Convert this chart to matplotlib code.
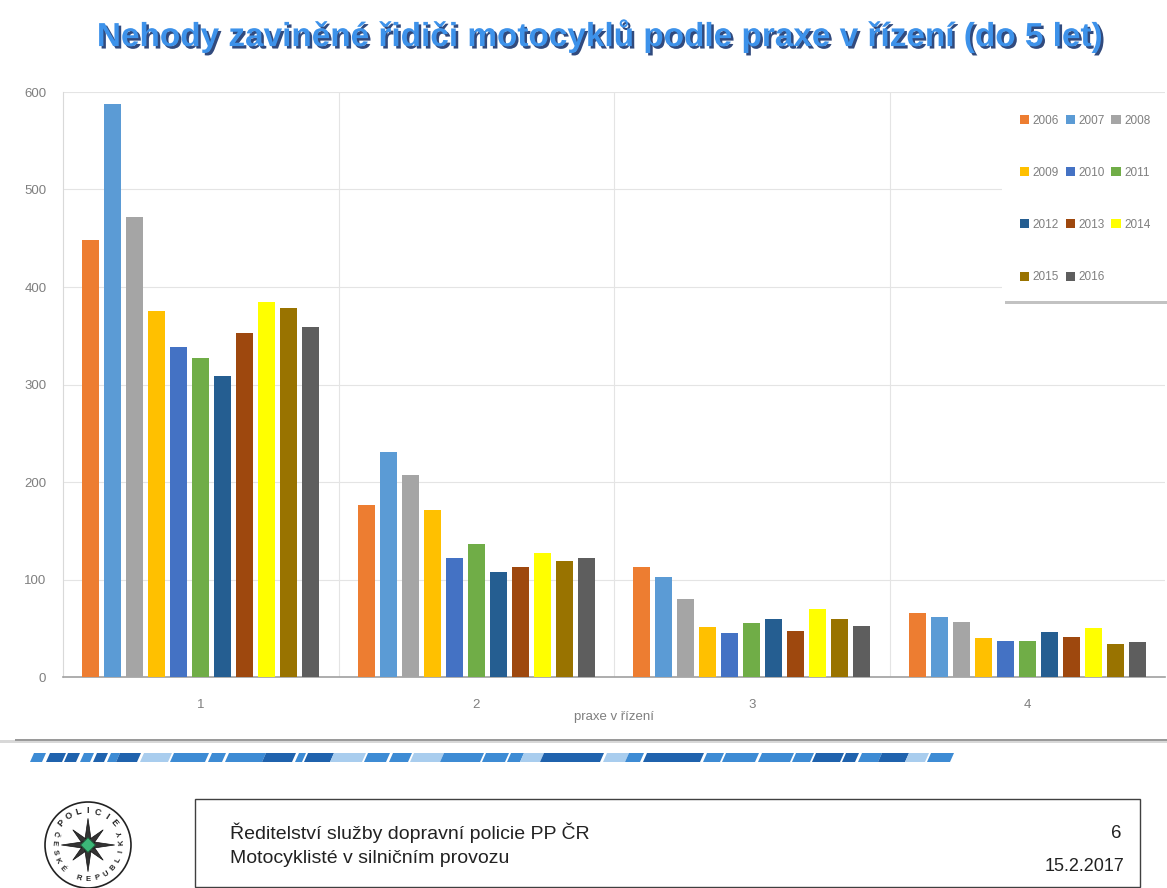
import matplotlib
matplotlib.use("Agg")
import matplotlib.pyplot as plt
import matplotlib.patheffects as pe
from matplotlib.patches import Rectangle, Polygon, Circle
import numpy as np

categories = ["1", "2", "3", "4"]
years = ["2006", "2007", "2008", "2009", "2010", "2011", "2012", "2013", "2014", "2015", "2016"]
v2006 = [448, 176, 113, 66]
v2007 = [588, 231, 103, 62]
v2008 = [472, 207, 80, 56]
v2009 = [375, 171, 51, 40]
v2010 = [338, 122, 45, 37]
v2011 = [327, 136, 55, 37]
v2012 = [309, 108, 59, 46]
v2013 = [353, 113, 47, 41]
v2014 = [385, 127, 70, 50]
v2015 = [378, 119, 59, 34]
v2016 = [359, 122, 52, 36]
series = [v2006, v2007, v2008, v2009, v2010, v2011, v2012, v2013, v2014, v2015, v2016]
colors = ["#ED7D31", "#5B9BD5", "#A5A5A5", "#FFC000", "#4472C4", "#70AD47",
          "#255E91", "#9E480E", "#FFFF00", "#997300", "#5E5E5E"]
yticks = [0, 100, 200, 300, 400, 500, 600]

W, H = 1167, 888
fig = plt.figure(figsize=(W / 100, H / 100), dpi=100)
plt.rcParams['font.family'] = ['Liberation Sans', 'DejaVu Sans']

def fx(px):
    return px / W

def fy(py):
    return 1 - py / H

ax = fig.add_axes([fx(63), fy(677), fx(1165) - fx(63), fy(92) - fy(677)])
x = np.arange(1, len(categories) + 1)
slot = 0.08
bw = 0.062
n = len(series)
handles = []
for i, (vals, c, yr) in enumerate(zip(series, colors, years)):
    off = (i - (n - 1) / 2) * slot
    b = ax.bar(x + off, vals, width=bw, color=c, label=yr, zorder=3)
    handles.append(b)

ax.set_xlim(0.5, 4.5)
ax.set_ylim(0, 600)
ax.set_yticks(yticks)
ax.set_xticks(x)
ax.set_xticklabels(categories)
ax.set_xticks([1.5, 2.5, 3.5], minor=True)
ax.grid(axis='y', color='#e4e4e4', linewidth=0.8, zorder=0)
ax.grid(axis='x', which='minor', color='#e4e4e4', linewidth=0.8, zorder=0)
ax.tick_params(axis='both', which='both', length=0, colors='#7f7f7f', labelsize=9.5)
ax.tick_params(axis='x', pad=16)
ax.tick_params(axis='y', pad=12)
for s in ['top', 'right']:
    ax.spines[s].set_visible(False)
ax.spines['left'].set_color('#d9d9d9')
ax.spines['bottom'].set_color('#a0a0a0')
ax.spines['bottom'].set_linewidth(1.2)
ax.set_xlabel("praxe v řízení", fontsize=9.5, color='#7f7f7f', labelpad=0)

# legend laid out row by row (3 per row)
order = [0, 3, 6, 9, 1, 4, 7, 10, 2, 5, 8]
leg = ax.legend([handles[k] for k in order], [years[k] for k in order],
                ncol=3, loc='upper left', bbox_to_anchor=(fx(1002), fy(97)),
                bbox_transform=fig.transFigure, fontsize=8.5, frameon=True,
                fancybox=False, shadow={'color': '#9a9a9a', 'alpha': 0.6}, labelspacing=3.4,
                columnspacing=0.55, handlelength=0.8, handleheight=0.8, handletextpad=0.3,
                borderpad=1.5, borderaxespad=0)
leg.get_frame().set_edgecolor('#ffffff')
leg.get_frame().set_linewidth(0)
for t in leg.get_texts():
    t.set_color('#7f7f7f')

# Title
fig.text(0.515, fy(36), "Nehody zaviněné řidiči motocyklů podle praxe v řízení (do 5 let)",
         ha='center', va='center', fontsize=24, fontweight='bold', color='#3d92ea',
         path_effects=[pe.withSimplePatchShadow(offset=(1.8, -1.8), shadow_rgbFace='#0d2a66', alpha=0.85)])

# separator line
fig.add_artist(Rectangle((0, fy(743)), 1, 3 / H, transform=fig.transFigure,
                         facecolor='#d8d8d8', edgecolor='none'))
fig.add_artist(Rectangle((fx(15), fy(741)), 1, 2.5 / H, transform=fig.transFigure,
                         facecolor='#9a9a9a', edgecolor='none'))

# blue stripe
DK, MD, LT = '#1f62ad', '#3d8bd4', '#a9cdee'
segs = [(30, 42, MD), (46, 62, DK), (64, 76, DK), (80, 90, MD), (93, 104, DK), (107, 116, MD),
        (116, 137, DK), (140, 168, LT), (170, 205, MD), (208, 222, MD), (225, 262, MD),
        (262, 292, DK), (295, 302, MD), (304, 330, DK), (330, 362, LT), (364, 386, MD),
        (389, 408, MD), (410, 440, LT), (440, 480, MD), (482, 505, MD), (507, 520, MD),
        (520, 540, LT), (540, 600, DK), (603, 625, LT), (625, 640, MD), (643, 700, DK),
        (703, 720, MD), (722, 755, MD), (758, 790, MD), (792, 810, MD), (812, 840, DK),
        (842, 855, DK), (858, 878, MD), (878, 905, DK), (905, 925, LT), (927, 950, MD)]
sk = 4
for a, b, c in segs:
    poly = Polygon([(fx(a), fy(762)), (fx(b), fy(762)), (fx(b + sk), fy(753)), (fx(a + sk), fy(753))],
                   closed=True, transform=fig.transFigure, facecolor=c, edgecolor='none')
    fig.add_artist(poly)

# footer box
fig.add_artist(Rectangle((fx(195), fy(888) + 0.001), fx(1140) - fx(195), fy(800) - fy(888),
                         transform=fig.transFigure, facecolor='white', edgecolor='#404040',
                         linewidth=1.0))
fig.text(fx(230), fy(833), "Ředitelství služby dopravní policie PP ČR", fontsize=14,
         color='#222222', va='center', ha='left')
fig.text(fx(230), fy(858), "Motocyklisté v silničním provozu", fontsize=14,
         color='#222222', va='center', ha='left')
fig.text(fx(1122), fy(833), "6", fontsize=13.5, color='#222222', va='center', ha='right')
fig.text(fx(1124), fy(866), "15.2.2017", fontsize=13, color='#222222', va='center', ha='right')

# logo
cx, cy, r = 88, 845, 43
lax = fig.add_axes([fx(cx - r - 3), fy(cy + r + 3), fx(2 * r + 6), (2 * r + 6) / H])
lax.set_xlim(-1.07, 1.07)
lax.set_ylim(-1.07, 1.07)
lax.axis('off')
lax.add_patch(Circle((0, 0), 1.0, facecolor='white', edgecolor='#222222', linewidth=1.2))
for k in range(8):
    ang = np.pi / 2 + k * np.pi / 4
    L = 0.62 if k % 2 == 0 else 0.5
    tip = (L * np.cos(ang), L * np.sin(ang))
    w = 0.09
    p1 = (w * np.cos(ang + np.pi / 2), w * np.sin(ang + np.pi / 2))
    p2 = (w * np.cos(ang - np.pi / 2), w * np.sin(ang - np.pi / 2))
    lax.add_patch(Polygon([p1, tip, p2], closed=True, facecolor='#333333', edgecolor='#111111', lw=0.5))
lax.add_patch(Polygon([(0, 0.17), (0.17, 0), (0, -0.17), (-0.17, 0)], closed=True,
                      facecolor='#3cb878', edgecolor='#1d6b40', lw=0.6))
top_txt = "POLICIE"
for i, ch in enumerate(top_txt):
    a = np.deg2rad(140 - i * (100 / (len(top_txt) - 1)))
    lax.text(0.8 * np.cos(a), 0.8 * np.sin(a), ch, rotation=np.rad2deg(a) - 90,
             ha='center', va='center', fontsize=6.5, fontweight='bold', color='#222222')
bot_txt = "ČESKÉ REPUBLIKY"
for i, ch in enumerate(bot_txt):
    a = np.deg2rad(160 + i * (220 / (len(bot_txt) - 1)))
    lax.text(0.8 * np.cos(a), 0.8 * np.sin(a), ch, rotation=np.rad2deg(a) + 90,
             ha='center', va='center', fontsize=5.5, fontweight='bold', color='#222222')

fig.savefig("out.png", dpi=100)
